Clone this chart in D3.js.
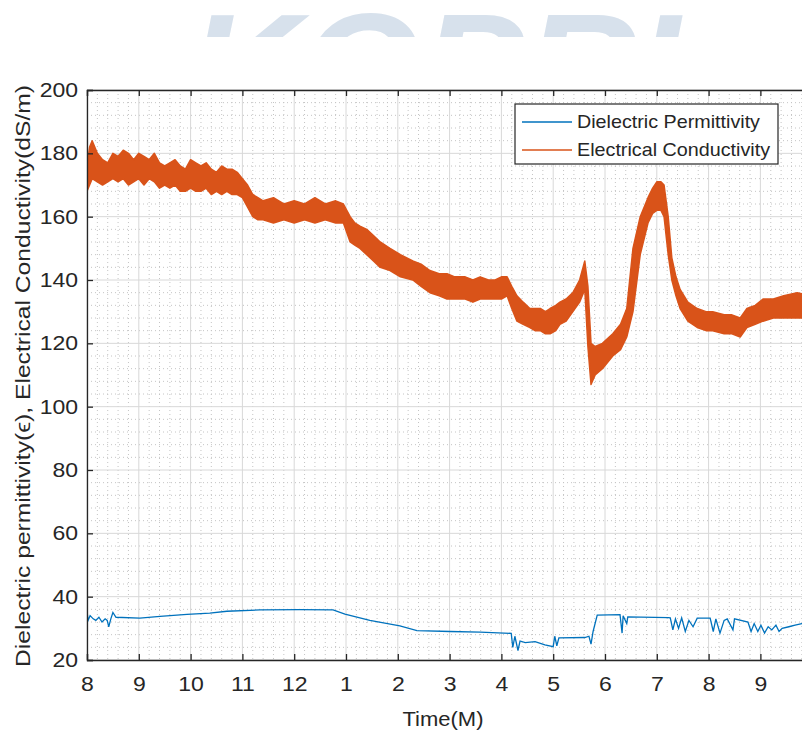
<!DOCTYPE html>
<html><head><meta charset="utf-8">
<script src="https://cdn.jsdelivr.net/npm/d3@7"></script>
<style>
html,body{margin:0;padding:0;background:#fff;}
svg{display:block;font-family:"Liberation Sans",Arial,Helvetica,sans-serif;}
</style></head>
<body>
<svg id="chart" width="802" height="737"></svg>
<script>
// ---- data ----
const xTickValues = [0,1,2,3,4,5,6,7,8,9,10,11,12,13];
const xTickLabels = ["8","9","10","11","12","1","2","3","4","5","6","7","8","9"];
const yTickValues = [20,40,60,80,100,120,140,160,180,200];

// Electrical conductivity: noisy band, upper / lower envelope
const condT = [0.00,0.05,0.10,0.20,0.30,0.40,0.50,0.60,0.70,0.80,0.90,1.00,1.10,1.20,1.30,1.40,1.50,1.60,1.70,1.80,1.90,2.00,2.10,2.20,2.30,2.40,2.50,2.60,2.70,2.80,2.90,3.00,3.10,3.20,3.30,3.40,3.60,3.80,4.00,4.20,4.40,4.60,4.80,4.95,5.08,5.17,5.27,5.40,5.53,5.66,5.85,6.05,6.29,6.45,6.62,6.80,6.95,7.10,7.30,7.45,7.59,7.75,7.88,8.00,8.11,8.20,8.30,8.42,8.55,8.65,8.75,8.85,8.94,9.05,9.13,9.25,9.38,9.51,9.61,9.67,9.73,9.81,9.95,10.15,10.30,10.42,10.54,10.68,10.83,10.92,11.00,11.08,11.14,11.22,11.29,11.37,11.45,11.60,11.78,11.95,12.08,12.30,12.45,12.61,12.74,12.90,13.05,13.25,13.45,13.71,14.00];
const condHi = [176,182,184,180,178,177,180,179,181,180,178,180,179,178,180,177,176,177,178,176,175,178,177,176,177,175,174,176,175,175,174,172,170,167,166,165,166,164,165,164,166,164,165,164,160,158,157,156,154,152,150,148,146,145,143,142,142,141,141,140,141,140,140,141,141,138,135,133,131,131,131,130,131,132,133,134,136,140,146,138,120,119,120,123,126,131,150,160,166,169,171,171,170,160,147,141,137,133,131,130,130,129,129,128,131,132,134,134,135,136,135];
const condLo = [168,170,172,171,170,171,172,171,172,170,171,172,170,172,171,169,170,169,170,168,168,169,168,168,169,167,168,167,168,167,167,166,163,160,159,159,158,159,158,159,158,159,158,158,152,151,150,148,146,144,143,141,140,138,136,135,134,134,134,133,134,134,134,134,135,131,127,126,125,124,124,123,123,124,126,127,130,133,137,119,107,110,112,116,118,122,130,148,158,161,162,162,160,148,140,135,131,127,125,124,124,123,123,122,125,126,127,128,128,128,128];

// Dielectric permittivity
const permT = [0.00,0.02,0.06,0.12,0.17,0.23,0.29,0.35,0.39,0.42,0.46,0.50,0.56,1.02,1.41,1.93,2.37,2.70,3.34,4.11,4.75,4.98,5.46,6.04,6.37,7.01,7.59,8.19,8.22,8.26,8.32,8.36,8.46,8.65,8.84,9.00,9.03,9.07,9.11,9.61,9.69,9.73,9.77,9.85,10.29,10.33,10.35,10.42,10.44,11.22,11.26,11.31,11.36,11.42,11.48,11.55,11.62,11.70,11.78,12.03,12.09,12.14,12.22,12.30,12.36,12.47,12.50,12.76,12.82,12.88,12.95,13.01,13.08,13.15,13.22,13.30,13.36,13.42,13.55,13.67,13.80,14.00];
const permV = [35.5,32.5,34.0,33.0,32.5,33.5,32.0,33.0,32.5,30.5,33.0,35.0,33.5,33.2,33.8,34.4,34.8,35.4,35.8,35.9,35.8,34.5,32.5,30.8,29.3,29.0,28.8,28.4,24.0,27.5,23.0,26.0,25.5,25.8,24.8,24.2,27.5,24.5,27.0,27.1,27.5,25.0,29.0,34.2,34.3,28.5,34.0,31.5,33.6,33.4,33.3,29.5,33.0,30.0,33.3,29.0,32.5,30.5,33.2,33.2,29.0,33.0,28.5,32.5,33.0,29.5,33.0,32.0,29.0,31.5,29.0,31.0,28.5,30.5,29.5,31.0,29.0,30.0,30.5,31.0,31.5,31.5];

const seriesNames = ["Dielectric Permittivity","Electrical Conductivity"];
const seriesColors = ["#0072BD","#D95319"];

// ---- layout ----
const svg = d3.select("#chart");
const L = 87, T = 90, B = 660, step = 51.8;
const x = d3.scaleLinear().domain([0,14]).range([L, L + 14*step]);
const y = d3.scaleLinear().domain([20,200]).range([B, T]);
const R = x(14);
const axCol = "#262626";

// watermark (page background, clipped at its lower part)
svg.append("defs").append("clipPath").attr("id","wm")
  .append("rect").attr("x",0).attr("y",0).attr("width",802).attr("height",37);
svg.append("text").attr("clip-path","url(#wm)")
  .attr("x",188).attr("y",120).attr("textLength",492).attr("lengthAdjust","spacingAndGlyphs")
  .attr("font-size",152).attr("font-weight","bold").attr("font-style","italic")
  .attr("fill","#d7e1ec").text("KOPRI");

svg.select("defs").append("clipPath").attr("id","clip")
  .append("rect").attr("x",L).attr("y",T).attr("width",R-L).attr("height",B-T);

const g = svg.append("g");
g.append("rect").attr("x",L).attr("y",T).attr("width",R-L).attr("height",B-T).attr("fill","#fff");

// minor grid
const minorX = d3.range(0,14,0.2).filter(v=>Math.abs(v-Math.round(v))>1e-6);
const minorY = d3.range(20,200,4).filter(v=>v%20!==0);
g.selectAll(".mx").data(minorX).enter().append("line")
  .attr("x1",d=>x(d)).attr("x2",d=>x(d)).attr("y1",T).attr("y2",B)
  .attr("stroke","#c4c4c4").attr("stroke-width",1).attr("stroke-dasharray","1,3");
g.selectAll(".my").data(minorY).enter().append("line")
  .attr("x1",L).attr("x2",R).attr("y1",d=>y(d)).attr("y2",d=>y(d))
  .attr("stroke","#c4c4c4").attr("stroke-width",1).attr("stroke-dasharray","1,3");
// major grid
g.selectAll(".gx").data(xTickValues).enter().append("line")
  .attr("x1",d=>x(d)).attr("x2",d=>x(d)).attr("y1",T).attr("y2",B)
  .attr("stroke","#d8d8d8").attr("stroke-width",1);
g.selectAll(".gy").data(yTickValues).enter().append("line")
  .attr("x1",L).attr("x2",R).attr("y1",d=>y(d)).attr("y2",d=>y(d))
  .attr("stroke","#d8d8d8").attr("stroke-width",1);

const plot = g.append("g").attr("clip-path","url(#clip)");
// conductivity band
const condData = condT.map((t,i)=>({t, hi:condHi[i], lo:condLo[i]}));
plot.append("path").datum(condData)
  .attr("d", d3.area().x(d=>x(d.t)).y0(d=>y(d.lo)).y1(d=>y(d.hi)))
  .attr("fill",seriesColors[1]).attr("stroke",seriesColors[1]).attr("stroke-width",1.5)
  .attr("stroke-linejoin","round");
// permittivity line
const permData = permT.map((t,i)=>({t, v:permV[i]}));
plot.append("path").datum(permData)
  .attr("d", d3.line().x(d=>x(d.t)).y(d=>y(d.v)))
  .attr("fill","none").attr("stroke",seriesColors[0]).attr("stroke-width",1.3);

// axes
const xb = d3.axisBottom(x).tickValues(xTickValues).tickFormat((d,i)=>xTickLabels[i]).tickSize(-6).tickPadding(17);
const gxb = g.append("g").attr("transform",`translate(0,${B})`).call(xb);
const xt = d3.axisTop(x).tickValues(xTickValues).tickFormat("").tickSize(-6);
const gxt = g.append("g").attr("transform",`translate(0,${T})`).call(xt);
const yl = d3.axisLeft(y).tickValues(yTickValues).tickSize(-6).tickPadding(9);
const gyl = g.append("g").attr("transform",`translate(${L},0)`).call(yl);
[gxb,gxt,gyl].forEach(a=>{
  a.select(".domain").attr("stroke",axCol).attr("stroke-width",1.3);
  a.selectAll(".tick line").attr("stroke",axCol).attr("stroke-width",1.3);
  a.selectAll(".tick text").attr("fill",axCol).attr("font-size",20)
   .attr("font-family","Liberation Sans, Arial, sans-serif");
});
gxb.selectAll(".tick text").attr("dy","0.71em");
// slightly wider glyphs, as in the reference
[gxb,gyl].forEach(a=>a.selectAll(".tick text").each(function(){
  const w = this.getComputedTextLength();
  d3.select(this).attr("textLength", w*1.15).attr("lengthAdjust","spacingAndGlyphs");
}));

// axis labels
svg.append("text").attr("x",443).attr("y",726).attr("text-anchor","middle")
  .attr("font-size",21).attr("fill",axCol)
  .attr("textLength",81).attr("lengthAdjust","spacingAndGlyphs").text("Time(M)");
svg.append("text").attr("transform","translate(30,376) rotate(-90)").attr("text-anchor","middle")
  .attr("font-size",21).attr("fill",axCol)
  .attr("textLength",582).attr("lengthAdjust","spacingAndGlyphs")
  .text("Dielectric permittivity(\u03F5), Electrical Conductivity(dS/m)");

// legend
const lg = svg.append("g");
lg.append("rect").attr("x",515).attr("y",104).attr("width",263).attr("height",60)
  .attr("fill","#fff").attr("stroke",axCol).attr("stroke-width",1.2);
const legLen = [183,193];
seriesNames.forEach((n,i)=>{
  const yy = 122 + i*28;
  lg.append("line").attr("x1",522).attr("x2",572).attr("y1",yy).attr("y2",yy)
    .attr("stroke",seriesColors[i]).attr("stroke-width",1.3);
  lg.append("text").attr("x",577).attr("y",yy).attr("dy","0.35em")
    .attr("font-size",18.5).attr("fill",axCol)
    .attr("textLength",legLen[i]).attr("lengthAdjust","spacingAndGlyphs").text(n);
});
</script>
</body></html>
